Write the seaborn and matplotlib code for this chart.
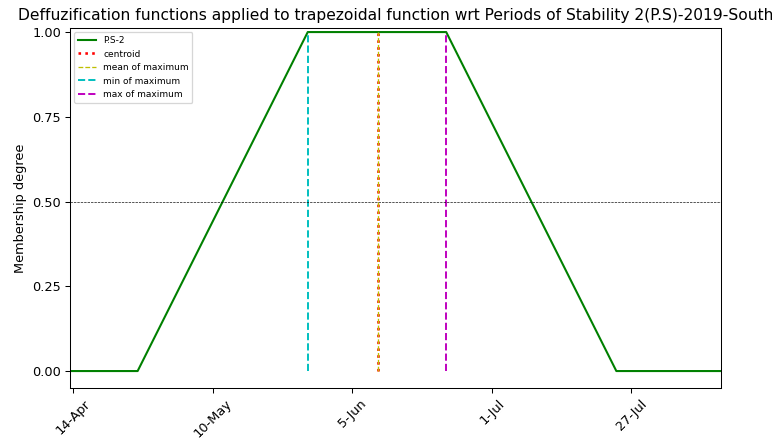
import matplotlib
matplotlib.use("Agg")
import matplotlib.pyplot as plt
import seaborn as sns
import pandas as pd

# Trapezoidal membership function for P.S-2 (x in day of year, 2019)
days = [103.4, 116.0, 147.7, 173.5, 205.2, 224.7]
membership = [0.0, 0.0, 1.0, 1.0, 0.0, 0.0]

# Defuzzified values
centroid = 160.7
mean_of_max = 160.7
min_of_max = 147.7
max_of_max = 173.5

tick_days = [104, 130, 156, 182, 208]
tick_labels = ["14-Apr", "10-May", "5-Jun", "1-Jul", "27-Jul"]

df = pd.DataFrame({"day": days, "degree": membership})

DPI = 93
W, H = 772, 438
fig = plt.figure(figsize=(W / DPI, H / DPI), dpi=DPI)
ax = fig.add_axes([70 / W, 1 - 388 / H, 651 / W, 360 / H])

sns.lineplot(data=df, x="day", y="degree", color="green", linewidth=1.6,
             label="P.S-2", ax=ax)
ax.vlines(centroid, 0, 1, colors="r", linestyles=":", linewidth=2, label="centroid")
ax.vlines(mean_of_max, 0, 1, colors="y", linestyles="--", linewidth=1, label="mean of maximum")
ax.vlines(min_of_max, 0, 1, colors="c", linestyles="--", linewidth=1.5, label="min of maximum")
ax.vlines(max_of_max, 0, 1, colors="m", linestyles="--", linewidth=1.5, label="max of maximum")
ax.axhline(0.5, color="black", linestyle="--", linewidth=0.5)

ax.set_xlim(days[0], days[-1])
ax.set_ylim(-0.05, 1.012)
ax.set_yticks([0, 0.25, 0.5, 0.75, 1.0])
ax.set_yticklabels(["0.00", "0.25", "0.50", "0.75", "1.00"])
ax.set_xticks(tick_days)
ax.set_xticklabels(tick_labels, rotation=45)
ax.set_xlabel("")
ax.set_ylabel("Membership degree")
ax.set_title("Deffuzification functions applied to trapezoidal function wrt Periods of Stability 2(P.S)-2019-South")
ax.legend(loc="upper left", fontsize="x-small")

fig.savefig("out.png", dpi=DPI)
